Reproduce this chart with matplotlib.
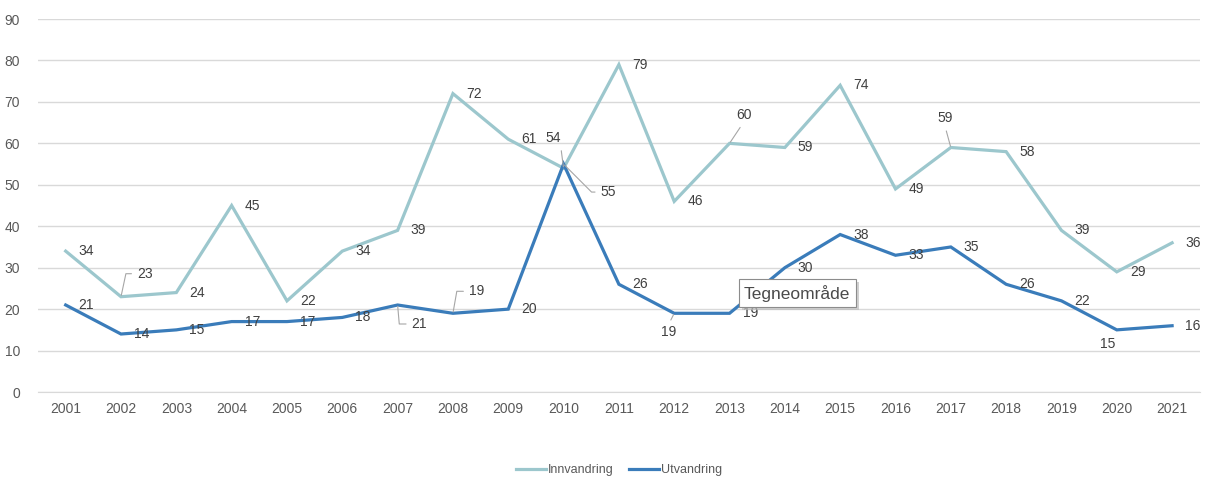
import matplotlib
matplotlib.use("Agg")
import matplotlib.pyplot as plt
from matplotlib.patches import Rectangle
from matplotlib.transforms import IdentityTransform

years = [str(y) for y in range(2001, 2022)]
innvandring = [34, 23, 24, 45, 22, 34, 39, 72, 61, 54, 79, 46, 60, 59, 74, 49, 59, 58, 39, 29, 36]
utvandring = [21, 14, 15, 17, 17, 18, 21, 19, 20, 55, 26, 19, 19, 30, 38, 33, 35, 26, 22, 15, 16]

INN_COLOR = "#9cc7cd"
UTV_COLOR = "#3a7cba"
LABEL_COLOR = "#404040"
LEADER = "#a6a6a6"

# label placement in pixels (dx, dy, ha, leader connection) - default is right of point
inn_pos = {
    1: (16, 23, "left", "angle,angleA=0,angleB=78,rad=0"),
    9: (-3, 30, "right", "arc3"),
    12: (14, 28, "center", "arc3"),
    16: (-6, 29, "center", "arc3"),
}
utv_pos = {
    6: (14, -19, "left", "angle,angleA=0,angleB=-85,rad=0"),
    7: (16, 22, "left", "angle,angleA=0,angleB=80,rad=0"),
    9: (37, -28, "left", "angle,angleA=0,angleB=-45,rad=0"),
    11: (-6, -19, "center", "arc3"),
    19: (-9, -14, "center", None),
}

plt.rcParams["font.family"] = ["Liberation Sans", "DejaVu Sans"]

fig = plt.figure(figsize=(12.07, 4.95), dpi=100)
ax = fig.add_axes([0.0315, 0.208, 0.9625, 0.7536])

x = list(range(len(years)))
ax.plot(x, innvandring, color=INN_COLOR, lw=2.3, label="Innvandring", solid_joinstyle="miter", zorder=3)
ax.plot(x, utvandring, color=UTV_COLOR, lw=2.3, label="Utvandring", solid_joinstyle="miter", zorder=3)


def put_labels(values, special):
    for i, v in enumerate(values):
        dx, dy, ha, conn = special.get(i, (13, 0, "left", None))
        kw = {}
        if conn:
            relx = {"left": 0.0, "right": 1.0, "center": 0.5}[ha]
            rely = 0.5 if ha == "left" else (0.0 if dy > 0 else 1.0)
            kw["arrowprops"] = dict(arrowstyle="-", color=LEADER, lw=0.8,
                                    shrinkA=2, shrinkB=1, connectionstyle=conn,
                                    relpos=(relx, rely))
        ax.annotate(str(v), (i, v), xytext=(dx, dy), textcoords="offset pixels",
                    ha=ha, va="center", fontsize=10, color=LABEL_COLOR, zorder=4, **kw)


put_labels(innvandring, inn_pos)
put_labels(utvandring, utv_pos)

ax.set_xlim(-0.5, len(years) - 0.5)
ax.set_ylim(0, 90)
ax.set_yticks(range(0, 91, 10))
ax.set_xticks(x)
ax.set_xticklabels(years)
ax.grid(axis="y", color="#d9d9d9", lw=1)
ax.set_axisbelow(True)
for s in ["top", "right", "left"]:
    ax.spines[s].set_visible(False)
ax.spines["bottom"].set_color("#d9d9d9")
ax.tick_params(length=0, labelsize=10, labelcolor="#595959")
ax.tick_params(axis="y", pad=13)
ax.tick_params(axis="x", pad=7)

fig.legend(loc="lower center", bbox_to_anchor=(0.513, 0.015), ncol=2, frameon=False,
           fontsize=9, labelcolor="#595959", handlelength=2.4, handletextpad=0.15,
           columnspacing=1.2)

# Excel tooltip left in the screenshot, with its drop shadow
tip = fig.text(0.6165, 0.408, "Tegneområde", fontsize=12.5, color="#4a4a4a", ha="left", va="center",
               zorder=5, bbox=dict(boxstyle="square,pad=0.3", fc="white", ec="#8c8c8c", lw=0.8))
fig.canvas.draw()
bb = tip.get_bbox_patch().get_window_extent()
fig.patches.append(Rectangle((bb.x0 + 3, bb.y0 - 3), bb.width, bb.height, transform=IdentityTransform(),
                             fc="#bdbdbd", ec="none", alpha=0.7, zorder=4))

fig.savefig("out.png", dpi=100)
